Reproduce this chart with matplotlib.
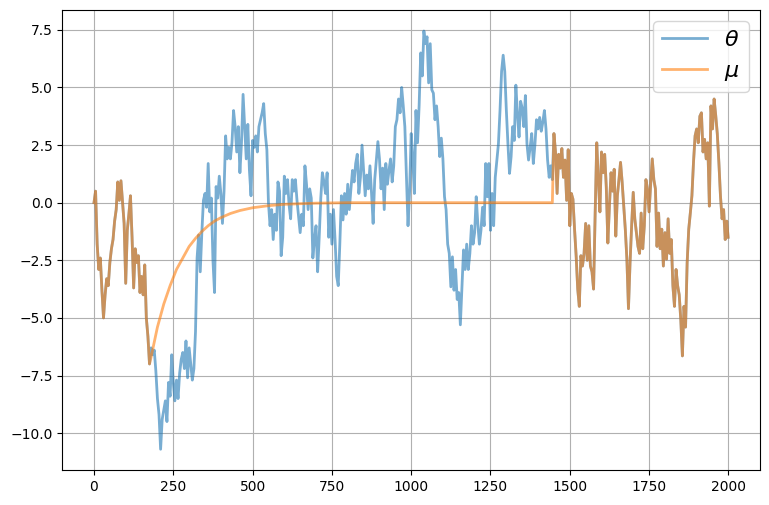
import matplotlib
matplotlib.use("Agg")
import matplotlib.pyplot as plt
import numpy as np

theta_x = list(range(0, 2000, 5)) + [1999]
theta = [
    0.0, 0.5, -1.8, -2.9, -2.4, -3.8, -5.0, -4.0, -3.3, -3.6, -2.6, -2.0, -1.6, -0.8, -0.3, 0.9, 0.1, 0.95, 0.0, -0.9,
    -3.5, -1.2, -0.5, 0.3, -1.5, -3.7, -2.0, -2.6, -2.3, -3.9, -3.2, -4.0, -2.7, -5.0, -5.8, -7.0, -6.3, -6.6, -6.4, -7.3,
    -8.5, -9.2, -10.7, -9.4, -9.0, -8.6, -9.5, -7.8, -8.4, -6.6, -7.8, -8.6, -7.7, -8.5, -7.4, -6.8, -6.5, -7.2, -6.0, -7.6,
    -6.3, -7.0, -7.7, -7.2, -5.6, -2.4, -1.4, -3.0, -1.3, 0.1, 0.4, -0.2, 1.7, -0.4, 0.2, -2.5, -3.9, 0.7, 0.2, 1.15,
    0.4, -0.9, 0.5, 2.9, 1.9, 2.4, 1.9, 2.6, 4.0, 3.3, 2.2, 3.3, 1.3, 2.6, 4.7, 3.3, 1.9, 3.4, 1.4, 0.3,
    2.7, 2.4, 2.9, 2.2, 3.3, 3.6, 3.9, 4.3, 3.0, 2.3, 0.0, -1.0, -0.3, -1.6, -0.5, -1.2, 0.9, 0.5, -2.3, -1.5,
    1.15, 0.4, 1.0, -0.1, -0.7, 1.0, 0.5, 1.0, 0.1, -0.6, -1.3, -0.5, -1.0, 1.6, 0.8, -0.3, 0.6, 0.2, -2.4, -1.6,
    -1.0, -3.0, -1.5, 0.2, 1.3, 0.9, 0.4, 1.3, -1.5, -0.5, -1.8, -0.3, -1.6, -3.2, -3.6, -1.8, 0.3, -0.75, 0.4, -0.5,
    0.8, -0.3, 0.6, 1.4, 0.9, 1.7, 2.1, 0.4, 1.1, 2.5, 1.4, 0.3, 1.2, 0.6, 1.6, 0.4, -0.9, 1.0, 1.8, 2.65,
    1.9, 0.6, 1.5, -0.3, 1.7, 0.8, 1.4, 1.9, 0.9, 1.6, 3.3, 3.6, 4.5, 3.9, 5.0, 4.2, 3.3, 1.1, -1.0, 0.5,
    3.0, 1.9, 0.4, 4.0, 2.6, 4.2, 6.5, 5.5, 7.45, 6.9, 7.2, 5.2, 6.9, 4.9, 4.75, 3.6, 4.2, 3.3, 2.0, 2.8,
    1.9, 0.26, -0.3, -1.8, -2.2, -3.65, -2.35, -3.8, -2.9, -4.2, -3.9, -5.3, -3.65, -2.05, -2.9, -1.8, -2.9, -2.2, -1.0, -1.8,
    -1.3, 0.26, -0.9, -1.8, -1.2, -0.2, -1.0, 1.7, 0.26, 1.7, -1.2, 0.4, -1.0, 1.1, 1.85, 2.55, 4.0, 5.7, 6.4, 5.7,
    4.0, 2.55, 1.27, 2.0, 3.3, 2.7, 5.1, 3.85, 2.85, 4.4, 4.1, 3.3, 4.65, 2.55, 1.85, 2.4, 3.0, 1.7, 2.5, 3.6,
    3.2, 3.7, 3.1, 3.5, 4.0, 3.2, 1.85, 1.1, 1.6, 1.0, 3.0, 2.2, 0.4, 2.1, 1.5, 2.35, 1.1, 1.85, 0.1, 2.3,
    -1.0, 0.4, 0.15, -1.15, -2.3, -3.75, -4.5, -2.3, -2.75, -2.2, -0.9, -2.5, -1.0, -2.75, -3.0, -3.75, -0.45, 2.6, 1.0, -0.4,
    2.2, 1.3, 2.1, 0.7, -1.75, -0.15, 1.3, 0.5, 1.45, -1.45, 0.3, 1.0, 1.75, 0.9, -0.15, -1.15, -2.45, -4.6, -2.6, -1.0,
    0.45, -0.7, -1.3, -1.9, -2.2, -0.45, -2.0, -1.0, 1.0, 0.6, -0.4, 0.8, 1.9, 1.0, 0.6, -1.9, -0.45, -2.0, -1.15, -2.75,
    -1.3, -2.45, -0.7, -2.2, -1.6, -3.6, -4.5, -2.9, -3.6, -4.0, -5.1, -6.65, -4.5, -5.4, -2.6, -1.15, -0.45, 0.3, 1.75, 2.9,
    3.2, 2.6, 3.75, 3.9, 2.2, 2.75, 1.9, 2.6, -0.15, 4.2, 3.2, 4.5, 3.8, 3.0, 1.75, 0.3, -0.7, -0.3, -1.6, -0.8,
    -1.5,
]

# mu: follows theta at the start and end, smooth relaxation to 0 in between
mu_mid_x = [180, 200, 220, 240, 260, 280, 300, 320, 340, 360, 380, 400, 430, 460,
            500, 550, 600, 700, 800, 1445]
mu_mid = [-6.7, -5.4, -4.4, -3.6, -2.9, -2.4, -1.9, -1.55, -1.25, -1.0, -0.8, -0.65, -0.47, -0.34,
          -0.22, -0.13, -0.07, -0.02, 0.0, 0.0]

n_head = theta_x.index(175) + 1
n_tail = theta_x.index(1450)
mu_x = theta_x[:n_head] + mu_mid_x + theta_x[n_tail:]
mu = theta[:n_head] + mu_mid + theta[n_tail:]

fig = plt.figure(figsize=(7.69, 5.05), dpi=100)
ax = fig.add_subplot(111)
fig.subplots_adjust(left=0.081, right=0.988, top=0.980, bottom=0.069)

ax.plot(theta_x, theta, label=r"$\theta$", linewidth=2, alpha=0.6)
ax.plot(mu_x, mu, label=r"$\mu$", linewidth=2, alpha=0.6)

ax.grid(True)
ax.legend(fontsize=16, loc="upper right")

plt.savefig("out.png", dpi=100)
